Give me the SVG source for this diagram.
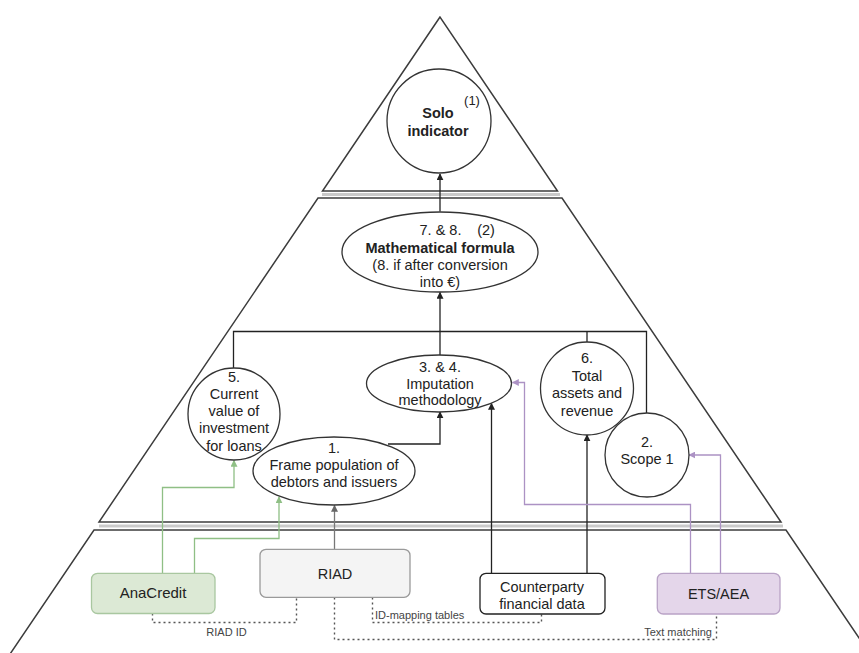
<svg xmlns="http://www.w3.org/2000/svg" width="859" height="653" viewBox="0 0 859 653">
  <defs>
    <style>
      .level { fill: #ffffff; stroke: #3c3c3c; stroke-width: 1.5; }
      .seam { stroke: #c9c9c9; stroke-width: 3; }
      .node { fill: #ffffff; stroke: #333333; stroke-width: 1.3; }
      .t { font-family: "Liberation Sans", Arial, sans-serif; font-size: 14.5px; fill: #222222; text-anchor: middle; }
      .b { font-weight: bold; }
      .small { font-family: "Liberation Sans", Arial, sans-serif; font-size: 11px; fill: #444444; }
      .wire { fill: none; stroke: #222222; stroke-width: 1.3; }
      .green { fill: none; stroke: #8fbf85; stroke-width: 1.3; }
      .purple { fill: none; stroke: #ac92c4; stroke-width: 1.3; }
      .grey { fill: none; stroke: #777777; stroke-width: 1.3; }
      .dots { fill: none; stroke: #555555; stroke-width: 1.4; stroke-dasharray: 2 3; }
    </style>
    <marker id="arrBlack" viewBox="0 0 10 10" refX="9" refY="5" markerWidth="7" markerHeight="7" markerUnits="userSpaceOnUse" orient="auto">
      <path d="M0,0 L10,5 L0,10 z" fill="#222222"/>
    </marker>
    <marker id="arrGreen" viewBox="0 0 10 10" refX="9" refY="5" markerWidth="7" markerHeight="7" markerUnits="userSpaceOnUse" orient="auto">
      <path d="M0,0 L10,5 L0,10 z" fill="#8fbf85"/>
    </marker>
    <marker id="arrPurple" viewBox="0 0 10 10" refX="9" refY="5" markerWidth="7" markerHeight="7" markerUnits="userSpaceOnUse" orient="auto">
      <path d="M0,0 L10,5 L0,10 z" fill="#ac92c4"/>
    </marker>
    <marker id="arrGrey" viewBox="0 0 10 10" refX="9" refY="5" markerWidth="7" markerHeight="7" markerUnits="userSpaceOnUse" orient="auto">
      <path d="M0,0 L10,5 L0,10 z" fill="#666666"/>
    </marker>
  </defs>

  <rect x="0" y="0" width="859" height="653" fill="#ffffff"/>

  <!-- pyramid levels -->
  <g id="levels">
    <polygon class="level" points="440,17 322.5,191 557.5,191"/>
    <polygon class="level" points="318,198 562,198 781,522 99,522"/>
    <polygon class="level" points="94,530 786,530 874,660 6,660"/>
    <line class="seam" x1="322" y1="194.5" x2="560" y2="194.5"/>
    <line class="seam" x1="99" y1="526" x2="783" y2="526"/>
  </g>

  <!-- connectors -->
  <g id="connectors">
    <path class="wire" d="M440,211.5 V174" marker-end="url(#arrBlack)"/>
    <path class="wire" d="M233.5,368 V331.5 H646.5 V413.5"/>
    <path class="wire" d="M440,331.5 V292.5" marker-end="url(#arrBlack)"/>
    <path class="wire" d="M440,331.5 V355"/>
    <path class="wire" d="M587,331.5 V342"/>
    <path class="wire" d="M388,444 H440 V412" marker-end="url(#arrBlack)"/>
    <path class="wire" d="M491.5,573.3 V403.5" marker-end="url(#arrBlack)"/>
    <path class="wire" d="M587,573.3 V435" marker-end="url(#arrBlack)"/>
    <path class="purple" d="M690.5,573.3 V504.5 H524.5 V382.5 H512.5" marker-end="url(#arrPurple)"/>
    <path class="purple" d="M720.5,573.3 V455 H689" marker-end="url(#arrPurple)"/>
    <path class="green" d="M162.5,573.3 V487.5 H234 V460.5" marker-end="url(#arrGreen)"/>
    <path class="green" d="M194.5,573.3 V538.5 H279 V497" marker-end="url(#arrGreen)"/>
    <path class="grey" d="M334.5,549.3 V505.5" marker-end="url(#arrGrey)"/>
    <path class="dots" d="M152.5,613.5 V622.5 H296.5 V597.5"/>
    <path class="dots" d="M334.5,597.5 V639.5 H716.5 V614"/>
    <path class="dots" d="M372.5,597.5 V622.5 H541.5 V614"/>
    <text class="small" x="226.5" y="635.5" text-anchor="middle">RIAD ID</text>
    <text class="small" x="375" y="619">ID-mapping tables</text>
    <text class="small" x="712" y="635.5" text-anchor="end">Text matching</text>
  </g>

  <g id="solo">
    <circle class="node" cx="439" cy="121" r="52"/>
    <text class="t b" x="438" y="118">Solo</text>
    <text class="t b" x="438" y="136">indicator</text>
    <text class="t" x="472" y="105" style="font-size:13px">(1)</text>
  </g>

  <g id="formula">
    <ellipse class="node" cx="440" cy="252" rx="98" ry="40"/>
    <text class="t" x="440.5" y="235">7. &amp; 8.</text>
    <text class="t" x="486" y="235">(2)</text>
    <text class="t b" x="440" y="253">Mathematical formula</text>
    <text class="t" x="440" y="270">(8. if after conversion</text>
    <text class="t" x="440" y="287">into €)</text>
  </g>

  <g id="current-value">
    <circle class="node" cx="234" cy="414" r="46"/>
    <text class="t" x="234" y="382">5.</text>
    <text class="t" x="234" y="399">Current</text>
    <text class="t" x="234" y="416">value of</text>
    <text class="t" x="234" y="433">investment</text>
    <text class="t" x="234" y="451">for loans</text>
  </g>

  <g id="imputation">
    <ellipse class="node" cx="439" cy="383.5" rx="72.5" ry="28.5"/>
    <text class="t" x="440" y="372">3. &amp; 4.</text>
    <text class="t" x="440" y="388.5">Imputation</text>
    <text class="t" x="440" y="405">methodology</text>
  </g>

  <g id="total-assets">
    <circle class="node" cx="587" cy="388.5" r="46.5"/>
    <text class="t" x="587" y="363">6.</text>
    <text class="t" x="587" y="380.5">Total</text>
    <text class="t" x="587" y="398">assets and</text>
    <text class="t" x="587" y="415.5">revenue</text>
  </g>

  <g id="scope">
    <circle class="node" cx="647" cy="455" r="42"/>
    <text class="t" x="647" y="447">2.</text>
    <text class="t" x="647" y="463.5">Scope 1</text>
  </g>

  <g id="frame">
    <ellipse class="node" cx="334" cy="471" rx="81" ry="34"/>
    <text class="t" x="334" y="453">1.</text>
    <text class="t" x="334" y="470">Frame population of</text>
    <text class="t" x="334" y="487">debtors and issuers</text>
  </g>

  <g id="anacredit">
    <rect x="91.5" y="573.3" width="123.5" height="40.2" rx="6" fill="#dce9d5" stroke="#a9c7a0" stroke-width="1.3"/>
    <text class="t" x="153" y="598" style="font-size:15px">AnaCredit</text>
  </g>

  <g id="riad">
    <rect x="260" y="549.3" width="150" height="48" rx="6" fill="#f4f4f4" stroke="#9a9a9a" stroke-width="1.3"/>
    <text class="t" x="335" y="578.5">RIAD</text>
  </g>

  <g id="counterparty">
    <rect x="480" y="573.3" width="125" height="40.7" rx="6" fill="#ffffff" stroke="#222222" stroke-width="1.3"/>
    <text class="t" x="542" y="592">Counterparty</text>
    <text class="t" x="542" y="609">financial data</text>
  </g>

  <g id="ets-aea">
    <rect x="657.3" y="573.3" width="122.7" height="40.7" rx="6" fill="#e4d6ea" stroke="#b9a3c6" stroke-width="1.3"/>
    <text class="t" x="718.5" y="599">ETS/AEA</text>
  </g>
</svg>
